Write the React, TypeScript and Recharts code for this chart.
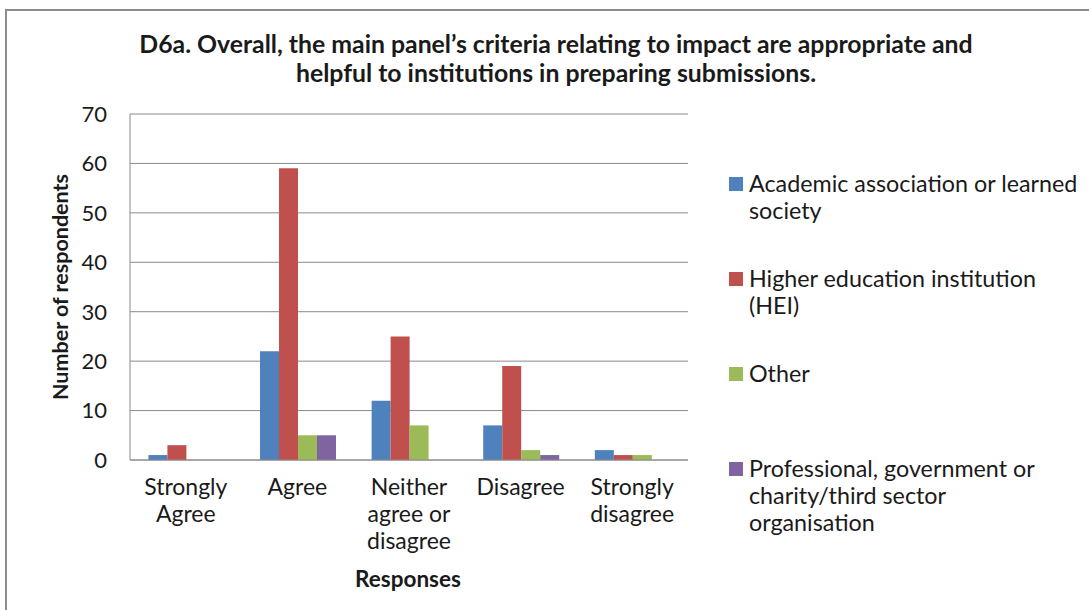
import { BarChart, Bar, XAxis, YAxis, CartesianGrid, Legend } from 'recharts';

const categories = ['Strongly Agree', 'Agree', 'Neither agree or disagree', 'Disagree', 'Strongly disagree'];
const categoryLines = [['Strongly', 'Agree'], ['Agree'], ['Neither', 'agree or', 'disagree'], ['Disagree'], ['Strongly', 'disagree']];
const academic = [1, 22, 12, 7, 2];
const hei = [3, 59, 25, 19, 1];
const other = [0, 5, 7, 2, 1];
const professional = [0, 5, 0, 1, 0];
const yTicks = [0, 10, 20, 30, 40, 50, 60, 70];

const seriesList = [
  { key: 'academic', name: 'Academic association or learned society', lines: ['Academic association or learned', 'society'], color: '#4F81BD' },
  { key: 'hei', name: 'Higher education institution (HEI)', lines: ['Higher education institution', '(HEI)'], color: '#C0504D' },
  { key: 'other', name: 'Other', lines: ['Other'], color: '#9BBB59' },
  { key: 'professional', name: 'Professional, government or charity/third sector organisation', lines: ['Professional, government or', 'charity/third sector', 'organisation'], color: '#8064A2' },
];

const data = categories.map((c, i) => ({
  category: c,
  academic: academic[i],
  hei: hei[i],
  other: other[i],
  professional: professional[i],
}));

const FONT = 'Lato, "Open Sans", sans-serif';
const TEXT = '#1a1a1a';
const LEGEND_W = 360;

const CategoryTick = ({ x, y, payload }: any) => {
  const lines = categoryLines[payload.index] || [payload.value];
  return (
    <text x={x} y={y + 27} textAnchor="middle" fontSize={23} fill={TEXT} fontFamily={FONT}>
      {lines.map((l: string, i: number) => (
        <tspan key={i} x={x} dy={i === 0 ? 0 : 27}>{l}</tspan>
      ))}
    </text>
  );
};

const LegendContent = () => (
  <div style={{ fontFamily: FONT, fontSize: 23.3, color: TEXT }}>
    {seriesList.map((s) => (
      <div key={s.key} style={{ position: 'relative', height: 95, paddingLeft: 20 }}>
        <span style={{ position: 'absolute', left: 0, top: 7, width: 14, height: 14, background: s.color }} />
        {s.lines.map((l, i) => (
          <div key={i} style={{ lineHeight: '27px', whiteSpace: 'nowrap' }}>{l}</div>
        ))}
      </div>
    ))}
  </div>
);

const App = () => {
  return (
    <div style={{ position: 'absolute', left: 0, top: 0, width: 1089, height: 610, overflow: 'hidden', background: '#fff' }}>
      <div style={{ position: 'absolute', left: 5, top: 9, width: 1200, height: 700, border: '2px solid #8c8c8c' }} />
      <div style={{ position: 'absolute', left: 0, top: 29, width: 1112, textAlign: 'center', fontFamily: FONT, fontWeight: 700, fontSize: 24.8, lineHeight: '29px', color: TEXT }}>
        D6a. Overall, the main panel’s criteria relating to impact are appropriate and<br />
        helpful to institutions in preparing submissions.
      </div>
      <div style={{ position: 'absolute', left: 60, top: 287, transform: 'translate(-50%, -50%) rotate(-90deg)', whiteSpace: 'nowrap', fontFamily: FONT, fontWeight: 700, fontSize: 21.5, color: TEXT }}>
        Number of respondents
      </div>
      <div style={{ position: 'absolute', left: 408, top: 578, transform: 'translate(-50%, -50%)', whiteSpace: 'nowrap', fontFamily: FONT, fontWeight: 700, fontSize: 22.5, color: TEXT }}>
        Responses
      </div>
      <BarChart
        width={1089}
        height={610}
        data={data}
        margin={{ top: 114, right: 401 - LEGEND_W, left: 80, bottom: 120 }}
        barCategoryGap="16.5%"
        barGap={0}
        style={{ position: 'absolute', left: 0, top: 0 }}
      >
        <CartesianGrid vertical={false} stroke="#8a8a8a" strokeWidth={1} />
        <XAxis
          dataKey="category"
          tick={<CategoryTick />}
          interval={0}
          height={30}
          stroke="#8a8a8a"
          tickLine={false}
        />
        <YAxis
          domain={[0, 70]}
          ticks={yTicks}
          width={50}
          stroke="#8a8a8a"
          tickLine={false}
          tickSize={5}
          tick={{ fontSize: 22, fill: TEXT, fontFamily: FONT, dx: -16 }}
        />
        <Legend
          layout="vertical"
          align="right"
          verticalAlign="top"
          content={<LegendContent />}
          wrapperStyle={{ position: 'absolute', left: 729, top: 170, width: LEGEND_W }}
        />
        {seriesList.map((s) => (
          <Bar key={s.key} dataKey={s.key} name={s.name} fill={s.color} isAnimationActive={false} />
        ))}
      </BarChart>
    </div>
  );
};

export default App;
